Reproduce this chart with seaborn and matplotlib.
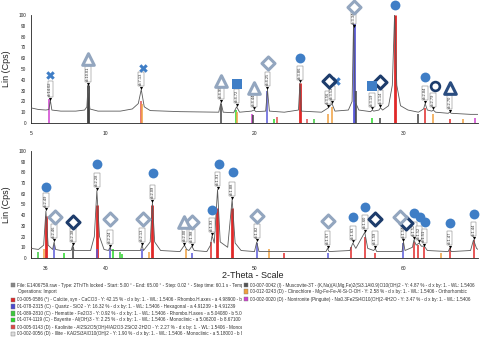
import matplotlib
matplotlib.use("Agg")
import matplotlib.pyplot as plt
import seaborn as sns
import pandas as pd
from matplotlib.patches import Rectangle

# ---------------- data ----------------
# measured trace, top panel (2-theta, Lin counts)
trace_top_x = [5.0, 5.5, 6.0, 6.2, 6.3, 6.4, 7.0, 8.0, 8.6, 8.75, 8.83, 8.95, 9.5, 11.0, 11.8, 12.2,
               12.4, 12.6, 13.0, 15.0, 17.6, 17.75, 17.9, 18.6, 18.8, 19.0, 19.8, 19.97, 20.1, 20.75,
               20.87, 21.0, 22.0, 22.95, 23.05, 23.15, 24.5, 24.95, 25.2, 25.4, 26.3, 26.55, 26.65,
               26.75, 27.0, 27.8, 27.9, 28.0, 28.35, 28.45, 28.6, 29.0, 29.25, 29.4, 29.55, 29.8,
               30.3, 31.0, 31.35, 31.45, 31.6, 31.9, 32.0, 32.15, 33.0, 33.1, 33.2, 34.5, 35.0]
trace_top_y = [14, 12.5, 12, 12.5, 21, 12, 11, 11, 12, 15, 35, 13, 11, 11, 13, 18,
               31, 15, 11.5, 10.5, 10, 19, 10, 9.5, 15, 10, 11, 12, 10.5, 11,
               31, 11, 10, 12, 37, 11, 10, 14, 18, 11, 12, 20, 95,
               20, 12, 10.5, 12, 11, 12, 14, 12, 16, 35, 100, 35, 16,
               12, 10, 13, 18, 12, 11, 12, 10, 9, 10, 9, 8, 8]

# measured trace, bottom panel
trace_bot_x = [35.0, 35.5, 35.85, 36.0, 36.15, 36.45, 36.55, 36.65, 37.0, 37.7, 37.8, 37.9, 39.0,
               39.25, 39.42, 39.6, 39.9, 40.2, 40.3, 40.4, 42.35, 42.45, 42.55, 43.0, 43.15, 43.3,
               43.7, 45.0, 45.3, 45.45, 45.6, 45.8, 45.95, 46.8, 47.05, 47.15, 47.3, 47.52, 47.7,
               48.2, 48.5, 48.7, 49.1, 50.0, 50.15, 50.3, 54.8, 54.9, 55.0, 56.4, 56.6, 56.8, 57.4,
               57.6, 58.0, 58.1, 58.2, 59.9, 60.0, 60.1, 60.6, 60.7, 60.85, 61.05, 61.2, 61.4, 61.6,
               63.0, 63.1, 63.2, 64.5, 64.7, 64.9, 65.0]
trace_bot_y = [9, 8, 12, 44, 12, 8, 15, 8, 7, 7, 12, 7, 7,
               20, 63, 20, 8, 7, 10, 7, 7, 12, 7, 15, 52, 15,
               7, 6, 12, 8, 7, 11, 7, 6, 12, 21, 14, 64, 15,
               10, 55, 14, 7, 6, 15, 6, 6, 9, 6, 7, 14, 9, 24,
               9, 7, 9, 6, 6, 15, 7, 10, 17, 12, 14, 11, 11, 7,
               6, 9, 6, 7, 17, 9, 8]

# reference phase sticks (position, height, phase)
stick_top_pos = [6.2, 8.85, 12.35, 12.45, 17.75, 18.75, 18.85, 19.8, 19.9, 20.85, 21.3, 21.5, 23.05,
                 23.5, 24.0, 24.9, 25.2, 26.65, 26.8, 27.9, 28.4, 29.4, 31.0, 31.45, 32.0, 33.1, 34.0, 34.8]
stick_top_h = [22, 35, 20, 18, 18, 12, 10, 8, 7, 30, 4, 6, 37,
               4, 4, 8, 15, 95, 30, 5, 5, 100, 8, 14, 8, 4, 4, 5]
stick_top_ph = ["Nontronite", "Muscovite", "Kaolinite", "Clinochlore", "Muscovite", "Bayerite", "Clinochlore",
                "Nontronite", "Muscovite", "Quartz", "Bayerite", "Kaolinite", "Calcite",
                "Kaolinite", "Hematite", "Clinochlore", "Clinochlore", "Quartz", "Muscovite", "Bayerite",
                "Muscovite", "Calcite", "Muscovite", "Calcite", "Clinochlore", "Calcite", "Clinochlore", "Nontronite"]

stick_bot_pos = [35.0, 35.5, 35.9, 36.0, 36.55, 37.2, 37.8, 39.42, 39.45, 40.3, 40.5, 41.0, 41.1, 42.45,
                 42.9, 43.15, 45.4, 45.8, 47.1, 47.5, 48.5, 50.15, 51.0, 52.0, 54.9, 56.5, 57.4, 58.1,
                 60.0, 60.7, 61.0, 61.4, 62.5, 63.1, 64.7]
stick_bot_h = [10, 6, 8, 39, 12, 5, 10, 50, 8, 9, 8, 6, 4, 8,
               6, 50, 8, 5, 15, 47, 47, 14, 8, 5, 5, 10, 20, 5,
               14, 15, 12, 10, 5, 9, 17]
stick_bot_ph = ["Calcite", "Hematite", "Clinochlore", "Calcite", "Quartz", "Bayerite", "Muscovite", "Calcite",
                "Quartz", "Quartz", "Bayerite", "Hematite", "Bayerite", "Quartz",
                "Clinochlore", "Calcite", "Clinochlore", "Quartz", "Calcite", "Calcite", "Calcite", "Quartz",
                "Clinochlore", "Calcite", "Quartz", "Calcite", "Calcite", "Calcite",
                "Quartz", "Calcite", "Calcite", "Calcite", "Clinochlore", "Calcite", "Calcite"]

# peak labels (position, apex height, d-spacing text)
lab_top_pos = [6.3, 8.83, 12.4, 17.75, 18.8, 19.97, 20.87, 23.05, 24.95, 25.2, 26.65, 27.9, 28.45,
               31.45, 32.0, 33.1]
lab_top_h = [21, 35, 31, 19, 15, 12, 31, 37, 14, 18, 88, 12, 14, 18, 12, 10]
lab_top_txt = ["d=14.02", "d=10.01", "d=7.13", "d=4.99", "d=4.72", "d=4.44", "d=4.25", "d=3.86",
               "d=3.56", "d=3.53", "d=3.34", "d=3.19", "d=3.14", "d=2.84", "d=2.79", "d=2.70"]

lab_bot_pos = [36.0, 36.55, 37.8, 39.42, 40.3, 42.45, 43.15, 45.3, 45.8, 47.15, 47.52, 48.5, 50.15,
               54.9, 56.6, 57.4, 58.1, 60.0, 60.7, 61.05, 61.4, 63.1, 64.7]
lab_bot_h = [44, 15, 12, 63, 10, 12, 52, 12, 11, 21, 64, 55, 15, 9, 14, 24, 9, 15, 17, 14, 11, 9, 17]
lab_bot_txt = ["d=2.49", "d=2.46", "d=2.38", "d=2.28", "d=2.24", "d=2.13", "d=2.09", "d=2.00",
               "d=1.98", "d=1.93", "d=1.91", "d=1.88", "d=1.82", "d=1.67", "d=1.63", "d=1.60",
               "d=1.59", "d=1.54", "d=1.52", "d=1.52", "d=1.51", "d=1.47", "d=1.44"]

# phase identification symbols above peaks
mk_top_pos = [6.3, 8.83, 12.5, 17.75, 18.8, 19.97, 20.9, 23.05, 25.0, 25.45, 26.68, 27.9, 28.45,
              29.4, 31.45, 32.1, 33.1]
mk_top_y = [44, 59, 51, 39, 36, 32, 56, 60, 39, 39, 107, 34, 38, 109, 43, 34, 32]
mk_top_kind = ["cross", "tri", "cross", "tri", "square", "tri", "quartz", "calcite", "dark", "cross",
               "quartz", "square", "dark", "calcite", "calcite", "ring", "tri_dark"]

mk_bot_pos = [36.0, 36.6, 37.8, 39.45, 40.3, 42.5, 43.2, 45.3, 45.8, 47.15, 47.6, 48.55, 50.15,
              54.9, 56.6, 57.4, 58.1, 59.75, 60.2, 60.7, 61.1, 61.45, 63.1, 64.7]
mk_bot_y = [66, 38, 34, 88, 36, 36, 79, 34, 34, 45, 88, 80, 39, 35, 38, 48, 36, 38, 33, 42, 38, 34, 33, 41]
mk_bot_kind = ["calcite", "quartz", "dark", "calcite", "quartz", "quartz", "calcite", "tri", "quartz",
               "calcite", "calcite", "calcite", "quartz", "quartz", "calcite", "calcite", "dark",
               "quartz", "dark", "calcite", "calcite", "calcite", "calcite", "calcite"]

# legend lines
legend_left = [
    "File: E1406759.raw - Type: 2Th/Th locked - Start: 5.00 ° - End: 65.00 ° - Step: 0.02 ° - Step time: 60.1 s - Temp.: 25 °C",
    "Operations: Import",
    "00-005-0586 (*) - Calcite, syn - CaCO3 - Y: 42.15 % - d x by: 1. - WL: 1.5406 - Rhombo.H.axes - a 4.98900 - b 4.98900",
    "01-078-2315 (C) - Quartz - SiO2 - Y: 16.32 % - d x by: 1. - WL: 1.5406 - Hexagonal - a 4.91239 - b 4.91239",
    "01-089-2810 (C) - Hematite - Fe2O3 - Y: 0.92 % - d x by: 1. - WL: 1.5406 - Rhombo.H.axes - a 5.04080 - b 5.04",
    "01-074-1119 (C) - Bayerite - Al(OH)3 - Y: 2.25 % - d x by: 1. - WL: 1.5406 - Monoclinic - a 5.06200 - b 8.67100",
    "00-005-0143 (D) - Kaolinite - Al2Si2O5(OH)4/Al2O3·2SiO2·2H2O - Y: 2.27 % - d x by: 1. - WL: 1.5406 - Monoclinic",
    "00-002-0056 (D) - Illite - KAl2Si3AlO10(OH)2 - Y: 1.90 % - d x by: 1. - WL: 1.5406 - Monoclinic - a 5.18000 - b 8.95",
]
legend_left_col = ["#888888", None, "#e02828", "#4b4bd0", "#3cc83c", "#28d828", "#e04848", "#dddddd"]
legend_right = [
    "00-007-0042 (I) - Muscovite-3T - (K,Na)(Al,Mg,Fe)2(Si3.1Al0.9)O10(OH)2 - Y: 4.87 % - d x by: 1. - WL: 1.5406",
    "00-012-0243 (D) - Clinochlore - Mg-Fe-Fe-Al-Si-O-OH - Y: 2.58 % - d x by: 1. - WL: 1.5406 - Orthorhombic",
    "00-002-0020 (D) - Nontronite (Pinguite) - Na0.3Fe2Si4O10(OH)2·4H2O - Y: 3.47 % - d x by: 1. - WL: 1.5406",
]
legend_right_col = ["#555555", "#f0a040", "#d040d0"]

# ---------------- styles ----------------
phase_color = {"Calcite": "#e02828", "Quartz": "#5a5ad8", "Hematite": "#3cc83c", "Bayerite": "#28d828",
               "Kaolinite": "#e05050", "Illite": "#cccccc", "Muscovite": "#404040",
               "Clinochlore": "#f0a040", "Nontronite": "#d040d0"}

kind_style = {
    "calcite": dict(marker="o", s=50, facecolor="#3f7ec6", edgecolor="#3f7ec6", linewidth=0),
    "square": dict(marker="s", s=42, facecolor="#3f7ec6", edgecolor="#3f7ec6", linewidth=0),
    "cross": dict(marker="X", s=38, facecolor="#3f7ec6", edgecolor="#3f7ec6", linewidth=0),
    "quartz": dict(marker="D", s=44, facecolor="white", edgecolor="#93a6bf", linewidth=2.2),
    "dark": dict(marker="D", s=44, facecolor="white", edgecolor="#1d3c6b", linewidth=2.2),
    "ring": dict(marker="o", s=40, facecolor="white", edgecolor="#1d3c6b", linewidth=1.9),
    "tri": dict(marker="^", s=70, facecolor="white", edgecolor="#93a6bf", linewidth=2.2),
    "tri_dark": dict(marker="^", s=70, facecolor="white", edgecolor="#2a4d80", linewidth=2.2),
}

sns.set_style("white")
plt.rcParams["font.family"] = ["Liberation Sans", "DejaVu Sans"]

fig = plt.figure(figsize=(4.84, 3.4), dpi=100)
ax_top = fig.add_axes([31 / 484, (340 - 123) / 340, 447 / 484, 108 / 340])
ax_bot = fig.add_axes([31 / 484, (340 - 258) / 340, 447 / 484, 107 / 340])


def draw_panel(ax, tx, ty, sp, sh, sph, lp, lh, lt, mp, my, mk, xlim, xlabels):
    # reference sticks
    sdf = pd.DataFrame({"pos": sp, "h": sh, "ph": sph})
    for _, r in sdf.iterrows():
        lw = 2.0 if r["h"] > 30 else 1.1
        ax.vlines(r["pos"], 0, r["h"], color=phase_color[r["ph"]], lw=lw, zorder=2)
    # measured pattern
    df = pd.DataFrame({"x": tx, "y": ty})
    sns.lineplot(data=df, x="x", y="y", ax=ax, color="#5a5a5a", lw=0.6, zorder=3, sort=False)
    # apex arrows and d-labels
    ldf = pd.DataFrame({"x": lp, "y": [h + 1.5 for h in lh]})
    sns.scatterplot(data=ldf, x="x", y="y", ax=ax, marker="v", s=5, color="black", linewidth=0, zorder=5)
    for x, h, t in zip(lp, lh, lt):
        ax.text(x, h + 4, t, rotation=90, ha="center", va="bottom", fontsize=2.9, color="#333333",
                zorder=6, clip_on=False,
                bbox=dict(boxstyle="square,pad=0.2", fc="white", ec="#777777", lw=0.35))
    # phase symbols
    mdf = pd.DataFrame({"x": mp, "y": my, "k": mk})
    for kind, sub in mdf.groupby("k"):
        sns.scatterplot(data=sub, x="x", y="y", ax=ax, zorder=7, clip_on=False, legend=False,
                        **kind_style[kind])
    ax.set_xlim(*xlim)
    ax.set_ylim(0, 100)
    ax.set_xticks(list(range(xlim[0], xlim[1] + 1)), minor=True)
    ax.set_xticks(xlabels)
    ax.set_xticklabels([str(v) for v in xlabels])
    ax.set_yticks(range(0, 101, 10))
    ax.set_yticklabels([str(v) for v in range(0, 101, 10)])
    ax.tick_params(axis="both", which="major", labelsize=3.4, length=2.0, width=0.5, pad=1.5,
                   direction="out", colors="#222222")
    ax.tick_params(axis="x", which="minor", length=1.3, width=0.4, direction="out", color="#222222")
    ax.tick_params(axis="x", labelsize=3.6, pad=4)
    for s in ["top", "right"]:
        ax.spines[s].set_visible(False)
    for s in ["left", "bottom"]:
        ax.spines[s].set_color("#222222")
        ax.spines[s].set_linewidth(0.6)
    ax.set_xlabel("")
    ax.set_ylabel("Lin (Cps)", fontsize=6.5, labelpad=5, color="#222222")
    ax.patch.set_alpha(0)


draw_panel(ax_top, trace_top_x, trace_top_y, stick_top_pos, stick_top_h, stick_top_ph,
           lab_top_pos, lab_top_h, lab_top_txt, mk_top_pos, mk_top_y, mk_top_kind, (5, 35), [5, 10, 20, 30])
draw_panel(ax_bot, trace_bot_x, trace_bot_y, stick_bot_pos, stick_bot_h, stick_bot_ph,
           lab_bot_pos, lab_bot_h, lab_bot_txt, mk_bot_pos, mk_bot_y, mk_bot_kind, (35, 65), [36, 40, 50, 60])

fig.text(253 / 484, 1 - 275 / 340, "2-Theta - Scale", fontsize=6.5, ha="center", va="center", color="#222222")

# legend block
ax_leg_l = fig.add_axes([10 / 484, 0, 232 / 484, 58 / 340])
ax_leg_r = fig.add_axes([243 / 484, 0, 236 / 484, 58 / 340])
for a in (ax_leg_l, ax_leg_r):
    a.set_xlim(0, 1)
    a.set_ylim(0, 58)
    a.axis("off")

ys_left = [55, 48.5, 40, 33.5, 26.5, 20, 13, 6]
for y, t, c in zip(ys_left, legend_left, legend_left_col):
    x0 = 0.035 if t.startswith("Operations") else 0.03
    ax_leg_l.text(x0, y, t, fontsize=3.3, va="center", ha="left", color="#333333", clip_on=True)
    if c is not None:
        ax_leg_l.add_patch(Rectangle((0.003, y - 2.2), 0.02, 4.4, fc=c, ec="#777777", lw=0.3))
ys_right = [55, 48.5, 41]
for y, t, c in zip(ys_right, legend_right, legend_right_col):
    ax_leg_r.text(0.03, y, t, fontsize=3.3, va="center", ha="left", color="#333333", clip_on=True)
    ax_leg_r.add_patch(Rectangle((0.003, y - 2.2), 0.02, 4.4, fc=c, ec="#777777", lw=0.3))

fig.savefig("out.png", dpi=100)
